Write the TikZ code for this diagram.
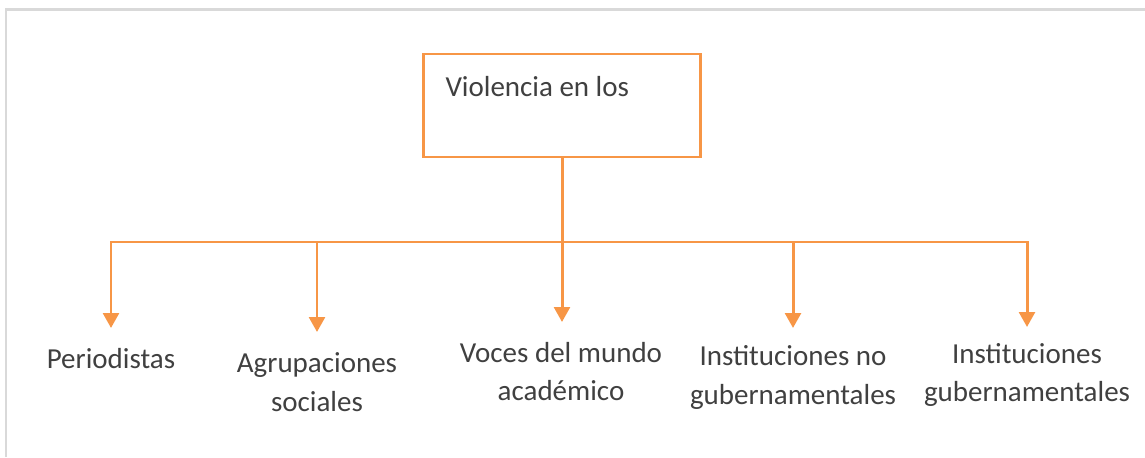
\documentclass[tikz,border=0pt]{standalone}
\usepackage{fontspec}
\setmainfont{Carlito}
\usetikzlibrary{arrows.meta, calc}

\definecolor{orng}{HTML}{F79646}
\definecolor{txtgray}{HTML}{404040}
\definecolor{framegray}{HTML}{D9D9D9}

\tikzset{
    box/.style={draw=orng, line width=1.2pt, minimum width=5.54cm, minimum height=2.06cm,
        text width=4.66cm, inner xsep=0.44cm, align=flush left, text=txtgray},
    lbl/.style={align=center, text=txtgray, inner sep=0pt},
    link/.style={draw=orng, line width=1.7pt},
    arr/.style={link, -{Triangle[width=9pt, length=8.5pt]}},
}

\begin{document}
\begin{tikzpicture}[font=\fontsize{16.5pt}{22pt}\selectfont]
    \useasboundingbox (0, 0) rectangle (22.9, 9.14);
    \draw[framegray, line width=1.4pt] (0.12, 0) -- (0.12, 8.95) -- (22.9, 8.95);

    \node[box] (viol) at (11.24, 7.03) {Violencia en los\\\mbox{}};

    \node[lbl] (per) at (2.22, 1.96) {Periodistas};
    \node[lbl] (agr) at (6.34, 1.50) {Agrupaciones\\sociales};
    \node[lbl] (voc) at (11.22, 1.71) {Voces del mundo\\académico};
    \node[lbl] (ing) at (15.86, 1.59) {Instituciones no\\gubernamentales};
    \node[lbl] (ig) at (20.54, 1.64) {Instituciones\\gubernamentales};

    \coordinate (hub) at (11.24, 4.30);
    \coordinate (tper) at (2.22, 2.58);
    \coordinate (tagr) at (6.34, 2.50);
    \coordinate (tvoc) at (11.24, 2.70);
    \coordinate (ting) at (15.86, 2.58);
    \coordinate (tig) at (20.54, 2.60);

    \draw[link] (viol.south) -- (hub);

    \draw[arr] (hub) -| (tper);
    \draw[arr] (hub) -| (tagr);
    \draw[arr] (hub) -- (tvoc);
    \draw[arr] (hub) -| (ting);
    \draw[arr] (hub) -| (tig);
\end{tikzpicture}
\end{document}
